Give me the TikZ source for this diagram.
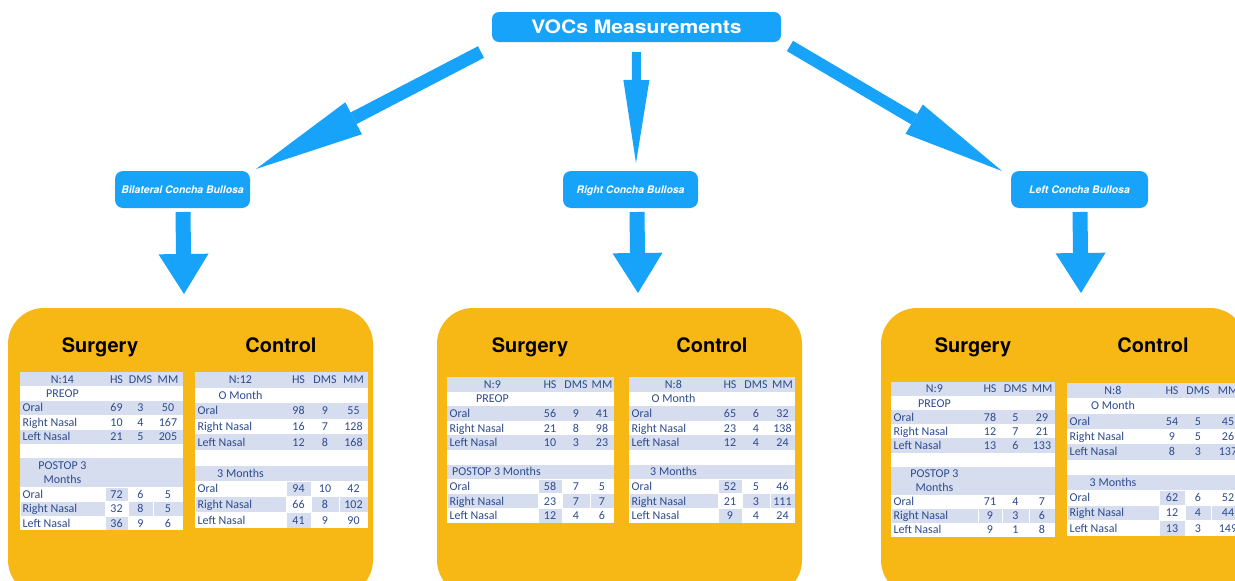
\documentclass[tikz,border=0pt]{standalone}
\usepackage{fontspec}
\setmainfont{Carlito}
\newfontfamily\hv{TeX Gyre Heros}
\newfontfamily\hvw{TeX Gyre Heros}[FakeStretch=1.14]
\usetikzlibrary{arrows.meta}
\definecolor{vblue}{RGB}{24,163,250}
\definecolor{vorange}{RGB}{247,184,22}
\definecolor{cellbg}{RGB}{213,221,239}
\definecolor{celltext}{RGB}{46,74,142}

% table geometry: width, row height, column borders (label|HS, HS|DMS, DMS|MM), tall sub-row flag
\newcommand\tgeom[6]{\def\tW{#1}\def\tH{#2}\def\tA{#3}\def\tB{#4}\def\tC{#5}\def\tX{#6}}
\newcommand\rowy[1]{%
  \pgfmathsetmacro\ytop{(#1)*\tH+((#1)>6)*\tX*\tH}%
  \pgfmathsetmacro\ybot{(#1+1)*\tH+((#1+1)>6)*\tX*\tH}%
  \pgfmathsetmacro\ymid{(\ytop+\ybot)/2}}
\newcommand\shcell[3]{\rowy{#3}\fill[cellbg] ({#1+0.5},{\ytop+0.5}) rectangle ({#2-0.5},{\ybot-0.5});}
\newcommand\tablebg[1]{%
  \rowy{9}\fill[white] (0,0) rectangle (\tW,\ybot);
  \foreach \r in {0,2,4,6}{\rowy{\r}\fill[cellbg] (0,\ytop) rectangle (\tW,\ybot);}
  \ifnum#1=1
    \shcell{\tA}{\tB}{7}\shcell{0}{\tA}{8}\shcell{\tB}{\tC}{8}\shcell{\tC}{\tW}{8}\shcell{\tA}{\tB}{9}
  \else
    \shcell{0}{\tA}{8}\shcell{\tA}{\tB}{8}\shcell{\tB}{\tC}{8}\shcell{\tC}{\tW}{8}
  \fi}
\def\bl{3.9}
\newcommand\thead[1]{\rowy{0}%
  \node[tnum] (\tn-h0) at ({\tA/2},{\ymid+\bl}) {#1};
  \node[tnum] (\tn-h1) at ({(\tA+\tB)/2},{\ymid+\bl}) {HS};
  \node[tnum] (\tn-h2) at ({(\tB+\tC)/2},{\ymid+\bl}) {DMS};
  \node[tnum] (\tn-h3) at ({(\tC+\tW)/2},{\ymid+\bl}) {MM};}
\newcommand\tsub[2]{\rowy{#1}\node[tnum] (\tn-s#1) at ({\tA/2},{\ymid+\bl}) {#2};}
\newcommand\tsubleft[2]{\rowy{#1}\node[tlab] (\tn-s#1) at (5,{\ymid+\bl}) {#2};}
\newcommand\tsubtwo[2]{\rowy{#1}\node[tnum, anchor=center, align=center] (\tn-s#1) at ({\tA/2},\ymid) {#2};}
\newcommand\trow[5]{\rowy{#1}%
  \node[tlab] (\tn-r#1) at (2.5,{\ymid+\bl}) {#2};
  \node[tnum] (\tn-r#1a) at ({(\tA+\tB)/2},{\ymid+\bl}) {#3};
  \node[tnum] (\tn-r#1b) at ({(\tB+\tC)/2},{\ymid+\bl}) {#4};
  \node[tnum] (\tn-r#1c) at ({(\tC+\tW)/2},{\ymid+\bl}) {#5};}

\begin{document}
\begin{tikzpicture}[x=1pt,y=-1pt,
  vbox/.style={fill=vblue, rounded corners=7pt, text=white, inner sep=0pt},
  subbox/.style={vbox, rounded corners=8pt, minimum width=135pt, minimum height=37pt,
    text height=7.5pt, text depth=0pt, font=\hv\bfseries\itshape\fontsize{10.4}{12}\selectfont},
  panel/.style={fill=vorange, rounded corners=36pt},
  ttl/.style={font=\hv\bfseries\fontsize{20}{24}\selectfont, anchor=base, inner sep=0pt},
  tlab/.style={font=\fontsize{12}{14.6}\selectfont, text=celltext, inner sep=0pt, anchor=base west},
  tnum/.style={font=\fontsize{12}{14.6}\selectfont, text=celltext, inner sep=0pt, anchor=base},
  slant/.style={vblue, line width=#1},
]
\useasboundingbox (0,0) rectangle (1235,581);
\clip (0,0) rectangle (1235,581);
\fill[white] (0,0) rectangle (1235,581);

% header and group boxes
\node[vbox, minimum width=289pt, minimum height=30pt,
  font=\hvw\bfseries\fontsize{18.5}{22}\selectfont] (voc) at (636.5,27) {VOCs Measurements};
\node[subbox] (bil) at (182.5,189.5) {Bilateral Concha Bullosa};
\node[subbox] (rgt) at (630.5,189.5) {Right Concha Bullosa};
\node[subbox, minimum width=137pt] (lft) at (1079.5,189.5) {Left Concha Bullosa};

% connector end points
\coordinate (a1s) at (481,52);   \coordinate (a1e) at (256,169);
\coordinate (a2s) at (636.5,52); \coordinate (a2e) at (636,163);
\coordinate (a3s) at (790,46);   \coordinate (a3e) at (1002,171);
\coordinate (d1s) at (183,212);  \coordinate (d1e) at (184,294);
\coordinate (d2s) at (637,212);  \coordinate (d2e) at (638,293);
\coordinate (d3s) at (1080,212); \coordinate (d3e) at (1081,293);

\draw[slant=13pt, -{Triangle[length=110pt,width=36pt,line width=0pt]}] (a1s) -- (a1e);
\draw[slant=9pt,  -{Triangle[length=83pt,width=26pt,line width=0pt]}] (a2s) -- (a2e);
\draw[slant=12pt, -{Triangle[length=102pt,width=34pt,line width=0pt]}] (a3s) -- (a3e);
\foreach \d in {1,2,3}
  \draw[slant=15pt, -{Triangle[length=40pt,width=50pt,line width=0pt]}] (d\d s) -- (d\d e);

% result panels
\fill[panel] (8,308) rectangle (373,596);
\fill[panel] (437,308) rectangle (802,596);
\fill[panel] (881,308) rectangle (1246,596);

\node[ttl] (t1s) at (100,352.7) {Surgery};
\node[ttl] (t1c) at (281,352.7) {Control};
\node[ttl] (t2s) at (530,352.7) {Surgery};
\node[ttl] (t2c) at (712,352.7) {Control};
\node[ttl] (t3s) at (973,352.7) {Surgery};
\node[ttl] (t3c) at (1153,352.7) {Control};

% bilateral: surgery
\begin{scope}[shift={(20,372)}]
\def\tn{bs}\tgeom{163}{14.4}{85}{108}{133}{1}
\tablebg{1}
\thead{N:14}
\tsub{1}{PREOP}
\trow{2}{Oral}{69}{3}{50}
\trow{3}{Right Nasal}{10}{4}{167}
\trow{4}{Left Nasal}{21}{5}{205}
\tsubtwo{6}{POSTOP 3\\Months}
\trow{7}{Oral}{72}{6}{5}
\trow{8}{Right Nasal}{32}{8}{5}
\trow{9}{Left Nasal}{36}{9}{6}
\end{scope}

% bilateral: control
\begin{scope}[shift={(195,372)}]
\def\tn{bc}\tgeom{173}{15.6}{91}{116}{144}{0}
\tablebg{1}
\thead{N:12}
\tsub{1}{O Month}
\trow{2}{Oral}{98}{9}{55}
\trow{3}{Right Nasal}{16}{7}{128}
\trow{4}{Left Nasal}{12}{8}{168}
\tsub{6}{3 Months}
\trow{7}{Oral}{94}{10}{42}
\trow{8}{Right Nasal}{66}{8}{102}
\trow{9}{Left Nasal}{41}{9}{90}
\end{scope}

% right: surgery
\begin{scope}[shift={(447,377)}]
\def\tn{rs}\tgeom{167}{14.6}{91}{115}{143}{0}
\tablebg{1}
\thead{N:9}
\tsub{1}{PREOP}
\trow{2}{Oral}{56}{9}{41}
\trow{3}{Right Nasal}{21}{8}{98}
\trow{4}{Left Nasal}{10}{3}{23}
\tsubleft{6}{POSTOP 3 Months}
\trow{7}{Oral}{58}{7}{5}
\trow{8}{Right Nasal}{23}{7}{7}
\trow{9}{Left Nasal}{12}{4}{6}
\end{scope}

% right: control
\begin{scope}[shift={(629,377)}]
\def\tn{rc}\tgeom{166}{14.6}{89}{113}{141}{0}
\tablebg{1}
\thead{N:8}
\tsub{1}{O Month}
\trow{2}{Oral}{65}{6}{32}
\trow{3}{Right Nasal}{23}{4}{138}
\trow{4}{Left Nasal}{12}{4}{24}
\tsub{6}{3 Months}
\trow{7}{Oral}{52}{5}{46}
\trow{8}{Right Nasal}{21}{3}{111}
\trow{9}{Left Nasal}{9}{4}{24}
\end{scope}

% left: surgery
\begin{scope}[shift={(891,382)}]
\def\tn{ls}\tgeom{164}{14.1}{87}{111}{138}{1}
\tablebg{0}
\thead{N:9}
\tsub{1}{PREOP}
\trow{2}{Oral}{78}{5}{29}
\trow{3}{Right Nasal}{12}{7}{21}
\trow{4}{Left Nasal}{13}{6}{133}
\tsubtwo{6}{POSTOP 3\\Months}
\trow{7}{Oral}{71}{4}{7}
\trow{8}{Right Nasal}{9}{3}{6}
\trow{9}{Left Nasal}{9}{1}{8}
\end{scope}

% left: control
\begin{scope}[shift={(1067,383)}]
\def\tn{lc}\tgeom{178}{15.3}{92}{118}{144}{0}
\tablebg{1}
\thead{N:8}
\tsub{1}{O Month}
\trow{2}{Oral}{54}{5}{45}
\trow{3}{Right Nasal}{9}{5}{26}
\trow{4}{Left Nasal}{8}{3}{137}
\tsub{6}{3 Months}
\trow{7}{Oral}{62}{6}{52}
\trow{8}{Right Nasal}{12}{4}{44}
\trow{9}{Left Nasal}{13}{3}{149}
\end{scope}
\end{tikzpicture}
\end{document}
